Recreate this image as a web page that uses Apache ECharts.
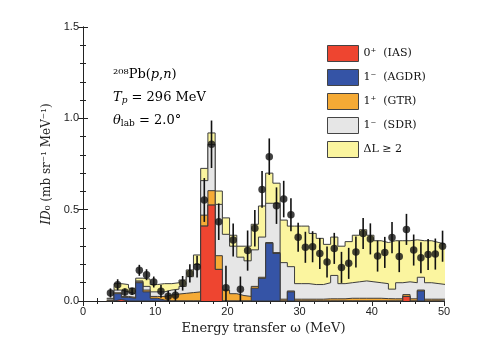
<!DOCTYPE html>
<html>
<head>
<meta charset="utf-8" />
<title>208Pb(p,n) ID0</title>
<script src="https://cdn.jsdelivr.net/npm/echarts@6/dist/echarts.min.js"></script>
<style>
  html, body { margin: 0; padding: 0; background: #fff; }
  #main { width: 498px; height: 352px; }
</style>
</head>
<body>
<div id="main"></div>
<script type="text/javascript">
// bin centres (MeV), 1 MeV wide bins
var binCenters = [3.8, 4.8, 5.8, 6.8, 7.8, 8.8, 9.8, 10.8, 11.8, 12.8,
  13.8, 14.8, 15.8, 16.8, 17.8, 18.8, 19.8, 20.8, 21.8, 22.8,
  23.8, 24.8, 25.8, 26.8, 27.8, 28.8, 29.8, 30.8, 31.8, 32.8,
  33.8, 34.8, 35.8, 36.8, 37.8, 38.8, 39.8, 40.8, 41.8, 42.8,
  43.8, 44.8, 45.8, 46.8, 47.8, 48.8, 49.8];

// multipole components (not cumulative)
var ias = [0, 0.008, 0, 0, 0, 0, 0, 0, 0, 0,
  0, 0, 0, 0.41, 0.525, 0.173, 0, 0, 0, 0,
  0, 0, 0, 0, 0, 0, 0, 0, 0, 0,
  0, 0, 0, 0, 0, 0, 0, 0, 0, 0,
  0, 0.025, 0, 0, 0, 0, 0];
var agdr = [0, 0.032, 0.02, 0.015, 0.10, 0.05, 0.015, 0.005, 0, 0,
  0, 0, 0, 0, 0, 0, 0, 0, 0, 0,
  0.07, 0.124, 0.316, 0.26, 0, 0.05, 0, 0, 0, 0,
  0, 0, 0, 0, 0, 0, 0, 0, 0, 0,
  0, 0, 0, 0.055, 0, 0, 0];
var gtr = [0.005, 0.005, 0.005, 0.005, 0.005, 0.01, 0.01, 0.02, 0.033, 0.038,
  0.042, 0.046, 0.05, 0.06, 0.079, 0.075, 0.06, 0.04, 0.03, 0.025,
  0.01, 0.006, 0.004, 0.005, 0.01, 0.005, 0.01, 0.01, 0.01, 0.01,
  0.012, 0.012, 0.012, 0.015, 0.015, 0.015, 0.015, 0.015, 0.013, 0.012,
  0.012, 0.01, 0.012, 0.005, 0.01, 0.01, 0.01];
var sdr = [0.007, 0.015, 0.025, 0.02, 0.005, 0.02, 0.025, 0.025, 0.027, 0.027,
  0.038, 0.087, 0.15, 0.189, 0.253, 0.281, 0.305, 0.26, 0.21, 0.195,
  0.20, 0.22, 0.215, 0.27, 0.20, 0.133, 0.085, 0.085, 0.08, 0.08,
  0.088, 0.128, 0.083, 0.085, 0.09, 0.095, 0.09, 0.085, 0.082, 0.053,
  0.088, 0.07, 0.088, 0.07, 0.09, 0.085, 0.08];
var dl2 = [0.003, 0.035, 0.04, 0.03, 0.015, 0.04, 0.04, 0.045, 0.035, 0.035,
  0.035, 0.037, 0.052, 0.067, 0.063, 0.073, 0.09, 0.06, 0.06, 0.08,
  0.14, 0.17, 0.165, 0.11, 0.233, 0.222, 0.315, 0.315, 0.28, 0.253,
  0.21, 0.21, 0.205, 0.225, 0.255, 0.28, 0.255, 0.23, 0.225, 0.265,
  0.23, 0.225, 0.235, 0.2, 0.23, 0.225, 0.22];

// measured points and their errors
var dataY = [0.044, 0.089, 0.049, 0.053, 0.168, 0.144, 0.104, 0.053, 0.026, 0.031,
  0.097, 0.151, 0.188, 0.553, 0.858, 0.434, 0.073, 0.334, 0.064, 0.276,
  0.398, 0.611, 0.79, 0.522, 0.558, 0.472, 0.349, 0.294, 0.297, 0.26,
  0.213, 0.288, 0.184, 0.206, 0.268, 0.37, 0.34, 0.246, 0.266, 0.347,
  0.243, 0.392, 0.279, 0.237, 0.255, 0.257, 0.30];
var dataErr = [0.025, 0.03, 0.02, 0.02, 0.03, 0.03, 0.03, 0.035, 0.03, 0.03,
  0.04, 0.05, 0.06, 0.12, 0.13, 0.1, 0.12, 0.09, 0.07, 0.11,
  0.1, 0.1, 0.1, 0.1, 0.1, 0.09, 0.08, 0.085, 0.085, 0.085,
  0.085, 0.085, 0.085, 0.085, 0.085, 0.085, 0.085, 0.085, 0.085, 0.085,
  0.085, 0.085, 0.085, 0.085, 0.085, 0.085, 0.085];

var layerNames = ['0\u207A  (IAS)', '1\u207B  (AGDR)', '1\u207A  (GTR)', '1\u207B  (SDR)', '\u0394L \u2265 2'];
var layerColors = ['#ee4530', '#3554a6', '#f5aa35', '#e6e6e6', '#fbf59f'];
var layers = [ias, agdr, gtr, sdr, dl2];

var xTicks = [0, 10, 20, 30, 40, 50];
var yTicks = [0.0, 0.5, 1.0, 1.5];

// cumulative step points at left bin edges, plus right edge of last bin
var running = binCenters.map(function () { return 0; });
var stepSets = [];
layers.forEach(function (vals) {
  var out = [];
  for (var i = 0; i < binCenters.length; i++) {
    running[i] += vals[i];
    out.push([binCenters[i] - 0.5, running[i]]);
  }
  var last = binCenters.length - 1;
  out.push([binCenters[last] + 0.5, running[last]]);
  stepSets.push(out);
});

var series = [];
for (var k = 0; k < layers.length; k++) {
  series.push({
    name: layerNames[k],
    type: 'line',
    step: 'end',
    symbol: 'none',
    showSymbol: false,
    itemStyle: { color: layerColors[k] },
    lineStyle: { color: '#3c3c3c', width: 1 },
    areaStyle: { color: layerColors[k], opacity: 1 },
    data: stepSets[k],
    z: 8 - k
  });
}

var points = [];
for (var j = 0; j < binCenters.length; j++) {
  points.push([binCenters[j], dataY[j], dataErr[j]]);
}

series.push({
  type: 'custom',
  data: points,
  encode: { x: 0, y: 1 },
  z: 10,
  renderItem: function (params, api) {
    var x = api.value(0), y = api.value(1), e = api.value(2);
    var lo = api.coord([x, Math.max(y - e, 0)]);
    var hi = api.coord([x, y + e]);
    return {
      type: 'line',
      shape: { x1: lo[0], y1: lo[1], x2: hi[0], y2: hi[1] },
      style: { stroke: '#111', lineWidth: 1.6 }
    };
  }
});
series.push({
  type: 'scatter',
  data: points,
  symbolSize: 7.5,
  itemStyle: { color: '#111' },
  z: 11
});

var tickFont = { fontFamily: 'Liberation Sans', fontSize: 11, color: '#222' };
var serif = 'DejaVu Serif';

var myChart = echarts.init(document.getElementById('main'));
var option = {
  animation: false,
  backgroundColor: '#fff',
  grid: { left: 83, right: 54, top: 27, bottom: 51 },
  legend: {
    data: layerNames,
    orient: 'vertical',
    left: 322,
    top: 40,
    itemWidth: 31,
    itemHeight: 16,
    itemGap: 7,
    icon: 'rect',
    itemStyle: { borderColor: '#444', borderWidth: 1 },
    textStyle: { fontFamily: serif, fontSize: 11, color: '#111' }
  },
  xAxis: [{
    type: 'value', min: 0, max: 50, interval: 10,
    name: 'Energy transfer \u03C9 (MeV)',
    nameLocation: 'middle', nameGap: 20,
    nameTextStyle: { fontFamily: serif, fontSize: 13, color: '#222' },
    axisLine: { lineStyle: { color: '#222', width: 1 } },
    axisTick: { inside: true, length: 5, lineStyle: { color: '#222' } },
    minorTick: { show: true, splitNumber: 5, length: 3, lineStyle: { color: '#222' } },
    splitLine: { show: false },
    axisLabel: Object.assign({ margin: 5, formatter: function (v) { return xTicks.indexOf(v) >= 0 ? String(v) : ''; } }, tickFont)
  }, {
    type: 'value', position: 'top', min: 0, max: 50, interval: 10,
    axisLine: { lineStyle: { color: '#222', width: 1 } },
    axisTick: { inside: true, length: 5, lineStyle: { color: '#222' } },
    minorTick: { show: true, splitNumber: 5, length: 3, lineStyle: { color: '#222' } },
    splitLine: { show: false },
    axisLabel: { show: false }
  }],
  yAxis: [{
    type: 'value', min: 0, max: 1.5, interval: 0.5,
    name: '{i|ID}{n|\u2080 (mb sr\u207B\u00B9 MeV\u207B\u00B9)}',
    nameLocation: 'middle', nameGap: 27, nameRotate: 90,
    nameTextStyle: {
      fontFamily: serif, fontSize: 12, color: '#222',
      rich: {
        i: { fontFamily: serif, fontSize: 12, fontStyle: 'italic', color: '#222' },
        n: { fontFamily: serif, fontSize: 12, color: '#222' }
      }
    },
    axisLine: { lineStyle: { color: '#222', width: 1 } },
    axisTick: { inside: true, length: 5, lineStyle: { color: '#222' } },
    minorTick: { show: true, splitNumber: 5, length: 3, lineStyle: { color: '#222' } },
    splitLine: { show: false },
    axisLabel: Object.assign({ margin: 4, formatter: function (v) {
      return yTicks.indexOf(v) >= 0 ? v.toFixed(1) : '';
    } }, tickFont)
  }, {
    type: 'value', position: 'right', min: 0, max: 1.5, interval: 0.5,
    axisLine: { lineStyle: { color: '#222', width: 1 } },
    axisTick: { inside: true, length: 5, lineStyle: { color: '#222' } },
    minorTick: { show: true, splitNumber: 5, length: 3, lineStyle: { color: '#222' } },
    splitLine: { show: false },
    axisLabel: { show: false }
  }],
  graphic: [{
    type: 'text', left: 113, top: 68, z: 20,
    style: {
      text: '{n|\u00B2\u2070\u2078Pb(}{i|p}{n|,}{i|n}{n|)}',
      rich: {
        n: { fontFamily: serif, fontSize: 13, color: '#222' },
        i: { fontFamily: serif, fontSize: 13, fontStyle: 'italic', color: '#222' }
      }
    }
  }, {
    type: 'text', left: 113, top: 91, z: 20,
    style: {
      text: '{i|T}{s|p}{n| = 296 MeV}',
      rich: {
        n: { fontFamily: serif, fontSize: 13, color: '#222', lineHeight: 16 },
        i: { fontFamily: serif, fontSize: 13, fontStyle: 'italic', color: '#222', lineHeight: 16 },
        s: { fontFamily: serif, fontSize: 9, fontStyle: 'italic', color: '#222', lineHeight: 8, verticalAlign: 'bottom' }
      }
    }
  }, {
    type: 'text', left: 113, top: 114, z: 20,
    style: {
      text: '{i|\u03B8}{s|lab}{n| = 2.0\u00B0}',
      rich: {
        n: { fontFamily: serif, fontSize: 13, color: '#222', lineHeight: 16 },
        i: { fontFamily: serif, fontSize: 13, fontStyle: 'italic', color: '#222', lineHeight: 16 },
        s: { fontFamily: serif, fontSize: 9, color: '#222', lineHeight: 8, verticalAlign: 'bottom' }
      }
    }
  }],
  series: series
};
myChart.setOption(option);
</script>
</body>
</html>
